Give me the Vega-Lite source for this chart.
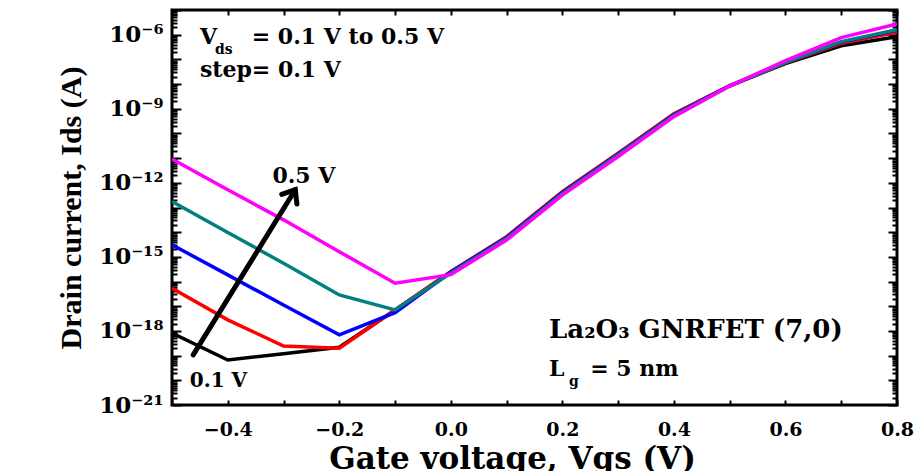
{
  "$schema": "https://vega.github.io/schema/vega-lite/v6.json",
  "width": 725,
  "height": 395,
  "autosize": {"type": "none"},
  "padding": {"left": 172, "top": 10, "right": 21, "bottom": 66},
  "background": "white",
  "config": {
    "view": {"stroke": "black", "strokeWidth": 3},
    "font": "DejaVu Serif",
    "axis": {
      "domain": false, "ticks": true, "tickColor": "black", "tickWidth": 2, "tickOpacity": 1, "zindex": 1,
      "labelFont": "DejaVu Serif", "labelFontWeight": "bold", "labelColor": "black",
      "titleFont": "DejaVu Serif", "titleFontWeight": "bold", "titleColor": "black",
      "grid": false, "labelOverlap": false, "labelFlush": false
    }
  },
  "datasets": {
    "curves": [
      {"vds": "0.1 V", "vgs": -0.5, "ids": 8.13e-19},
      {"vds": "0.1 V", "vgs": -0.4, "ids": 6.61e-20},
      {"vds": "0.1 V", "vgs": -0.3, "ids": 1.20e-19},
      {"vds": "0.1 V", "vgs": -0.2, "ids": 2.19e-19},
      {"vds": "0.1 V", "vgs": -0.1, "ids": 7.08e-18},
      {"vds": "0.1 V", "vgs": 0.0, "ids": 2.51e-16},
      {"vds": "0.1 V", "vgs": 0.1, "ids": 6.31e-15},
      {"vds": "0.1 V", "vgs": 0.2, "ids": 4.17e-13},
      {"vds": "0.1 V", "vgs": 0.3, "ids": 1.51e-11},
      {"vds": "0.1 V", "vgs": 0.4, "ids": 6.03e-10},
      {"vds": "0.1 V", "vgs": 0.5, "ids": 8.51e-9},
      {"vds": "0.1 V", "vgs": 0.6, "ids": 6.76e-8},
      {"vds": "0.1 V", "vgs": 0.7, "ids": 3.55e-7},
      {"vds": "0.1 V", "vgs": 0.8, "ids": 8.32e-7},
      {"vds": "0.2 V", "vgs": -0.5, "ids": 5.37e-17},
      {"vds": "0.2 V", "vgs": -0.4, "ids": 2.82e-18},
      {"vds": "0.2 V", "vgs": -0.3, "ids": 2.45e-19},
      {"vds": "0.2 V", "vgs": -0.2, "ids": 2.00e-19},
      {"vds": "0.2 V", "vgs": -0.1, "ids": 7.08e-18},
      {"vds": "0.2 V", "vgs": 0.0, "ids": 2.51e-16},
      {"vds": "0.2 V", "vgs": 0.1, "ids": 6.61e-15},
      {"vds": "0.2 V", "vgs": 0.2, "ids": 4.37e-13},
      {"vds": "0.2 V", "vgs": 0.3, "ids": 1.58e-11},
      {"vds": "0.2 V", "vgs": 0.4, "ids": 6.31e-10},
      {"vds": "0.2 V", "vgs": 0.5, "ids": 8.71e-9},
      {"vds": "0.2 V", "vgs": 0.6, "ids": 7.24e-8},
      {"vds": "0.2 V", "vgs": 0.7, "ids": 4.47e-7},
      {"vds": "0.2 V", "vgs": 0.8, "ids": 1.26e-6},
      {"vds": "0.3 V", "vgs": -0.5, "ids": 3.09e-15},
      {"vds": "0.3 V", "vgs": -0.4, "ids": 1.86e-16},
      {"vds": "0.3 V", "vgs": -0.3, "ids": 1.12e-17},
      {"vds": "0.3 V", "vgs": -0.2, "ids": 6.92e-19},
      {"vds": "0.3 V", "vgs": -0.1, "ids": 5.50e-18},
      {"vds": "0.3 V", "vgs": 0.0, "ids": 2.40e-16},
      {"vds": "0.3 V", "vgs": 0.1, "ids": 6.03e-15},
      {"vds": "0.3 V", "vgs": 0.2, "ids": 3.98e-13},
      {"vds": "0.3 V", "vgs": 0.3, "ids": 1.45e-11},
      {"vds": "0.3 V", "vgs": 0.4, "ids": 5.75e-10},
      {"vds": "0.3 V", "vgs": 0.5, "ids": 8.51e-9},
      {"vds": "0.3 V", "vgs": 0.6, "ids": 7.59e-8},
      {"vds": "0.3 V", "vgs": 0.7, "ids": 5.01e-7},
      {"vds": "0.3 V", "vgs": 0.8, "ids": 1.51e-6},
      {"vds": "0.4 V", "vgs": -0.5, "ids": 1.74e-13},
      {"vds": "0.4 V", "vgs": -0.4, "ids": 9.77e-15},
      {"vds": "0.4 V", "vgs": -0.3, "ids": 5.50e-16},
      {"vds": "0.4 V", "vgs": -0.2, "ids": 2.88e-17},
      {"vds": "0.4 V", "vgs": -0.1, "ids": 7.08e-18},
      {"vds": "0.4 V", "vgs": 0.0, "ids": 2.19e-16},
      {"vds": "0.4 V", "vgs": 0.1, "ids": 5.50e-15},
      {"vds": "0.4 V", "vgs": 0.2, "ids": 3.63e-13},
      {"vds": "0.4 V", "vgs": 0.3, "ids": 1.35e-11},
      {"vds": "0.4 V", "vgs": 0.4, "ids": 5.37e-10},
      {"vds": "0.4 V", "vgs": 0.5, "ids": 8.32e-9},
      {"vds": "0.4 V", "vgs": 0.6, "ids": 7.59e-8},
      {"vds": "0.4 V", "vgs": 0.7, "ids": 5.25e-7},
      {"vds": "0.4 V", "vgs": 0.8, "ids": 1.58e-6},
      {"vds": "0.5 V", "vgs": -0.5, "ids": 9.12e-12},
      {"vds": "0.5 V", "vgs": -0.4, "ids": 5.25e-13},
      {"vds": "0.5 V", "vgs": -0.3, "ids": 3.16e-14},
      {"vds": "0.5 V", "vgs": -0.2, "ids": 1.62e-15},
      {"vds": "0.5 V", "vgs": -0.1, "ids": 8.51e-17},
      {"vds": "0.5 V", "vgs": 0.0, "ids": 1.91e-16},
      {"vds": "0.5 V", "vgs": 0.1, "ids": 4.79e-15},
      {"vds": "0.5 V", "vgs": 0.2, "ids": 3.16e-13},
      {"vds": "0.5 V", "vgs": 0.3, "ids": 1.17e-11},
      {"vds": "0.5 V", "vgs": 0.4, "ids": 4.79e-10},
      {"vds": "0.5 V", "vgs": 0.5, "ids": 8.32e-9},
      {"vds": "0.5 V", "vgs": 0.6, "ids": 8.91e-8},
      {"vds": "0.5 V", "vgs": 0.7, "ids": 7.59e-7},
      {"vds": "0.5 V", "vgs": 0.8, "ids": 2.75e-6}
    ],
    "bigText": [
      {"vgs": -0.45, "ids": 8.3e-7, "label": "V"},
      {"vgs": -0.357, "ids": 8.3e-7, "label": "= 0.1 V to 0.5 V"},
      {"vgs": -0.45, "ids": 3.8e-8, "label": "step= 0.1 V"},
      {"vgs": -0.32, "ids": 1.9e-12, "label": "0.5 V"},
      {"vgs": 0.176, "ids": 2.9e-20, "label": "L"},
      {"vgs": 0.25, "ids": 2.9e-20, "label": "= 5 nm"}
    ],
    "largeText": [
      {"vgs": 0.176, "ids": 1.1e-18, "label": "La₂O₃ GNRFET (7,0)"}
    ],
    "subText": [
      {"vgs": -0.423, "ids": 2.45e-7, "label": "ds"},
      {"vgs": 0.212, "ids": 8.5e-21, "label": "g"}
    ],
    "midText": [
      {"vgs": -0.468, "ids": 9.3e-21, "label": "0.1 V"}
    ],
    "arrow": [
      {"vgs": -0.462, "ids": 1.07e-19, "vgs2": -0.279, "ids2": 5.25e-13}
    ]
  },
  "layer": [
    {
      "data": {"name": "curves"},
      "mark": {"type": "line", "strokeWidth": 3.5, "clip": true},
      "encoding": {
        "x": {
          "field": "vgs", "type": "quantitative",
          "scale": {"domain": [-0.5, 0.8], "nice": false, "zero": false},
          "axis": {
            "orient": "bottom", "offset": -5, "tickSize": 5, "ticks": true,
            "values": [-0.5, -0.4, -0.3, -0.2, -0.1, 0, 0.1, 0.2, 0.3, 0.4, 0.5, 0.6, 0.7, 0.8],
            "labelExpr": "abs(round(datum.value*10)) % 2 == 0 ? format(datum.value, '.1f') : ''",
            "labelPadding": 15, "labelFontSize": 19,
            "title": "Gate voltage, Vgs (V)", "titleFontSize": 31, "titlePadding": 5, "titleX": 340
          }
        },
        "y": {
          "field": "ids", "type": "quantitative",
          "scale": {"type": "log", "domain": [1e-21, 1e-5], "nice": false},
          "axis": {
            "orient": "left", "offset": -9, "tickSize": 9, "ticks": true,
            "values": [1e-21,1e-20,1e-19,1e-18,1e-17,1e-16,1e-15,1e-14,1e-13,1e-12,1e-11,1e-10,1e-9,1e-8,1e-7,1e-6,1e-5],
            "labelExpr": "round(log(datum.value)/LN10) == -6 ? '10⁻⁶' : round(log(datum.value)/LN10) == -9 ? '10⁻⁹' : round(log(datum.value)/LN10) == -12 ? '10⁻¹²' : round(log(datum.value)/LN10) == -15 ? '10⁻¹⁵' : round(log(datum.value)/LN10) == -18 ? '10⁻¹⁸' : round(log(datum.value)/LN10) == -21 ? '10⁻²¹' : ''",
            "labelPadding": 9, "labelFontSize": 23,
            "title": "Drain current, Ids (A)", "titleFont": "Liberation Serif", "titleFontSize": 30, "titlePadding": 12
          }
        },
        "color": {
          "field": "vds", "type": "nominal",
          "scale": {"domain": ["0.1 V", "0.2 V", "0.3 V", "0.4 V", "0.5 V"], "range": ["#000000", "#ff0000", "#0000ff", "#008080", "#ff00ff"]},
          "legend": null
        }
      }
    },
    {
      "data": {"name": "bigText"},
      "mark": {"type": "text", "align": "left", "baseline": "middle", "font": "DejaVu Serif", "fontWeight": "bold", "fontSize": 22, "color": "black"},
      "encoding": {
        "x": {
          "field": "vgs", "type": "quantitative",
          "axis": {
            "orient": "top", "labels": false, "title": null, "offset": -5, "tickSize": 5, "ticks": true,
            "values": [-0.5, -0.4, -0.3, -0.2, -0.1, 0, 0.1, 0.2, 0.3, 0.4, 0.5, 0.6, 0.7, 0.8]
          }
        },
        "y": {
          "field": "ids", "type": "quantitative",
          "axis": {
            "orient": "right", "labels": false, "title": null, "offset": -9, "tickSize": 9, "ticks": true,
            "values": [1e-21,1e-20,1e-19,1e-18,1e-17,1e-16,1e-15,1e-14,1e-13,1e-12,1e-11,1e-10,1e-9,1e-8,1e-7,1e-6,1e-5]
          }
        },
        "text": {"field": "label", "type": "nominal"}
      }
    },
    {
      "data": {"name": "subText"},
      "mark": {"type": "text", "align": "left", "baseline": "middle", "font": "DejaVu Serif", "fontWeight": "bold", "fontSize": 14, "color": "black"},
      "encoding": {
        "x": {"field": "vgs", "type": "quantitative", "axis": null},
        "y": {
          "field": "ids", "type": "quantitative",
          "axis": {
            "orient": "left", "labels": false, "title": null, "offset": -5, "tickSize": 5, "ticks": true,
            "values": [2e-21,3e-21,4e-21,5e-21,6e-21,7e-21,8e-21,9e-21,2e-20,3e-20,4e-20,5e-20,6e-20,7e-20,8e-20,9e-20,2e-19,3e-19,4e-19,5e-19,6e-19,7e-19,8e-19,9e-19,2e-18,3e-18,4e-18,5e-18,6e-18,7e-18,8e-18,9e-18,2e-17,3e-17,4e-17,5e-17,6e-17,7e-17,8e-17,9e-17,2e-16,3e-16,4e-16,5e-16,6e-16,7e-16,8e-16,9e-16,2e-15,3e-15,4e-15,5e-15,6e-15,7e-15,8e-15,9e-15,2e-14,3e-14,4e-14,5e-14,6e-14,7e-14,8e-14,9e-14,2e-13,3e-13,4e-13,5e-13,6e-13,7e-13,8e-13,9e-13,2e-12,3e-12,4e-12,5e-12,6e-12,7e-12,8e-12,9e-12,2e-11,3e-11,4e-11,5e-11,6e-11,7e-11,8e-11,9e-11,2e-10,3e-10,4e-10,5e-10,6e-10,7e-10,8e-10,9e-10,2e-9,3e-9,4e-9,5e-9,6e-9,7e-9,8e-9,9e-9,2e-8,3e-8,4e-8,5e-8,6e-8,7e-8,8e-8,9e-8,2e-7,3e-7,4e-7,5e-7,6e-7,7e-7,8e-7,9e-7,2e-6,3e-6,4e-6,5e-6,6e-6,7e-6,8e-6,9e-6]
          }
        },
        "text": {"field": "label", "type": "nominal"}
      }
    },
    {
      "data": {"name": "midText"},
      "mark": {"type": "text", "align": "left", "baseline": "middle", "font": "DejaVu Serif", "fontWeight": "bold", "fontSize": 20, "color": "black"},
      "encoding": {
        "x": {"field": "vgs", "type": "quantitative", "axis": null},
        "y": {
          "field": "ids", "type": "quantitative",
          "axis": {
            "orient": "right", "labels": false, "title": null, "offset": -5, "tickSize": 5, "ticks": true,
            "values": [2e-21,3e-21,4e-21,5e-21,6e-21,7e-21,8e-21,9e-21,2e-20,3e-20,4e-20,5e-20,6e-20,7e-20,8e-20,9e-20,2e-19,3e-19,4e-19,5e-19,6e-19,7e-19,8e-19,9e-19,2e-18,3e-18,4e-18,5e-18,6e-18,7e-18,8e-18,9e-18,2e-17,3e-17,4e-17,5e-17,6e-17,7e-17,8e-17,9e-17,2e-16,3e-16,4e-16,5e-16,6e-16,7e-16,8e-16,9e-16,2e-15,3e-15,4e-15,5e-15,6e-15,7e-15,8e-15,9e-15,2e-14,3e-14,4e-14,5e-14,6e-14,7e-14,8e-14,9e-14,2e-13,3e-13,4e-13,5e-13,6e-13,7e-13,8e-13,9e-13,2e-12,3e-12,4e-12,5e-12,6e-12,7e-12,8e-12,9e-12,2e-11,3e-11,4e-11,5e-11,6e-11,7e-11,8e-11,9e-11,2e-10,3e-10,4e-10,5e-10,6e-10,7e-10,8e-10,9e-10,2e-9,3e-9,4e-9,5e-9,6e-9,7e-9,8e-9,9e-9,2e-8,3e-8,4e-8,5e-8,6e-8,7e-8,8e-8,9e-8,2e-7,3e-7,4e-7,5e-7,6e-7,7e-7,8e-7,9e-7,2e-6,3e-6,4e-6,5e-6,6e-6,7e-6,8e-6,9e-6]
          }
        },
        "text": {"field": "label", "type": "nominal"}
      }
    },
    {
      "data": {"name": "largeText"},
      "mark": {"type": "text", "align": "left", "baseline": "middle", "font": "DejaVu Serif", "fontWeight": "bold", "fontSize": 26, "color": "black"},
      "encoding": {
        "x": {"field": "vgs", "type": "quantitative", "axis": null},
        "y": {"field": "ids", "type": "quantitative", "axis": null},
        "text": {"field": "label", "type": "nominal"}
      }
    },
    {
      "data": {"name": "arrow"},
      "mark": {"type": "rule", "strokeWidth": 5, "color": "black", "strokeCap": "round"},
      "encoding": {
        "x": {"field": "vgs", "type": "quantitative", "axis": null},
        "y": {"field": "ids", "type": "quantitative", "axis": null},
        "x2": {"field": "vgs2"},
        "y2": {"field": "ids2"}
      }
    },
    {
      "data": {"name": "arrow"},
      "mark": {"type": "point", "shape": "M -0.8 1 L 0 0 L 0.8 1", "size": 500, "filled": false, "strokeWidth": 5, "color": "black", "opacity": 1, "angle": 32, "strokeCap": "round", "strokeJoin": "miter"},
      "encoding": {
        "x": {"field": "vgs2", "type": "quantitative", "axis": null},
        "y": {"field": "ids2", "type": "quantitative", "axis": null}
      }
    }
  ],
  "resolve": {"axis": {"x": "independent", "y": "independent"}}
}
